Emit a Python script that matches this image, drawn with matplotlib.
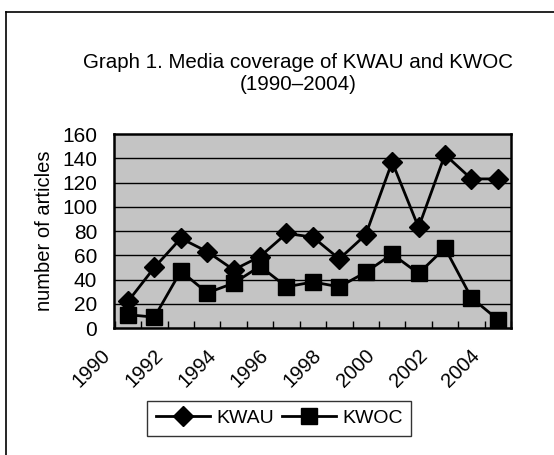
import numpy as np
import matplotlib
matplotlib.use("Agg")
import matplotlib.pyplot as plt
from matplotlib.lines import Line2D

plt.rcParams['font.family'] = ['Liberation Sans', 'DejaVu Sans']

years = list(range(1990, 2005))
kwau = [22, 50, 74, 63, 48, 59, 78, 75, 57, 77, 137, 83, 143, 123, 123]
kwoc = [11, 9, 47, 29, 37, 51, 34, 38, 34, 46, 61, 45, 66, 25, 7]
yticks = [0, 20, 40, 60, 80, 100, 120, 140, 160]

fig = plt.figure(figsize=(5.54, 4.55), dpi=100)
ax = fig.add_axes([0.2058, 0.279, 0.7166, 0.4264])

x = np.arange(len(years))
l1, = ax.plot(x, kwau, color='black', lw=2, marker='D', ms=10, mfc='black', mec='black', label='KWAU', zorder=3)
l2, = ax.plot(x, kwoc, color='black', lw=2, marker='s', ms=11, mfc='black', mec='black', label='KWOC', zorder=3)

ax.set_facecolor('#c4c4c4')
ax.set_xlim(-0.5, len(years) - 0.5)
ax.set_ylim(0, 160)
ax.set_yticks(yticks)
for yv in yticks[1:-1]:
    ax.axhline(yv, color='black', lw=1, zorder=1)
for sp in ax.spines.values():
    sp.set_linewidth(1.8)
    sp.set_zorder(4)

# category boundaries as minor ticks, labels every other year
# (Excel puts the end of the rotated label a bit left of the category centre)
ax.set_xticks(np.arange(len(years) + 1) - 0.5, minor=True)
ax.set_xticks(x[::2] - 0.53)
ax.set_xticklabels([str(y) for y in years[::2]], rotation=45, ha='right', va='top', fontsize=14.5)
ax.tick_params(axis='x', which='major', length=0, pad=13)
ax.tick_params(axis='x', which='minor', direction='in', length=5, width=1)
ax.tick_params(axis='y', length=0, labelsize=15, pad=12)
ax.set_ylabel('number of articles', fontsize=14.5, labelpad=6)

fig.text(0.538, 0.862, 'Graph 1. Media coverage of KWAU and KWOC', ha='center', va='center', fontsize=14.8)
fig.text(0.538, 0.815, '(1990\u20132004)', ha='center', va='center', fontsize=14.8)

leg = fig.legend(handles=[l1, l2], loc='center', bbox_to_anchor=(0.504, 0.081), ncol=2,
                 frameon=True, fancybox=False, shadow=False, fontsize=14,
                 handlelength=2.8, handletextpad=0.3, columnspacing=0.4, borderpad=0.45)
leg.get_frame().set_edgecolor('black')
leg.get_frame().set_linewidth(1)

# outer frame (top and left edges)
fig.add_artist(Line2D([0.011, 1.0], [0.974, 0.974], color='black', lw=1.2, transform=fig.transFigure))
fig.add_artist(Line2D([0.011, 0.011], [0.0, 0.974], color='black', lw=1.2, transform=fig.transFigure))

fig.savefig('out.png', dpi=100)
